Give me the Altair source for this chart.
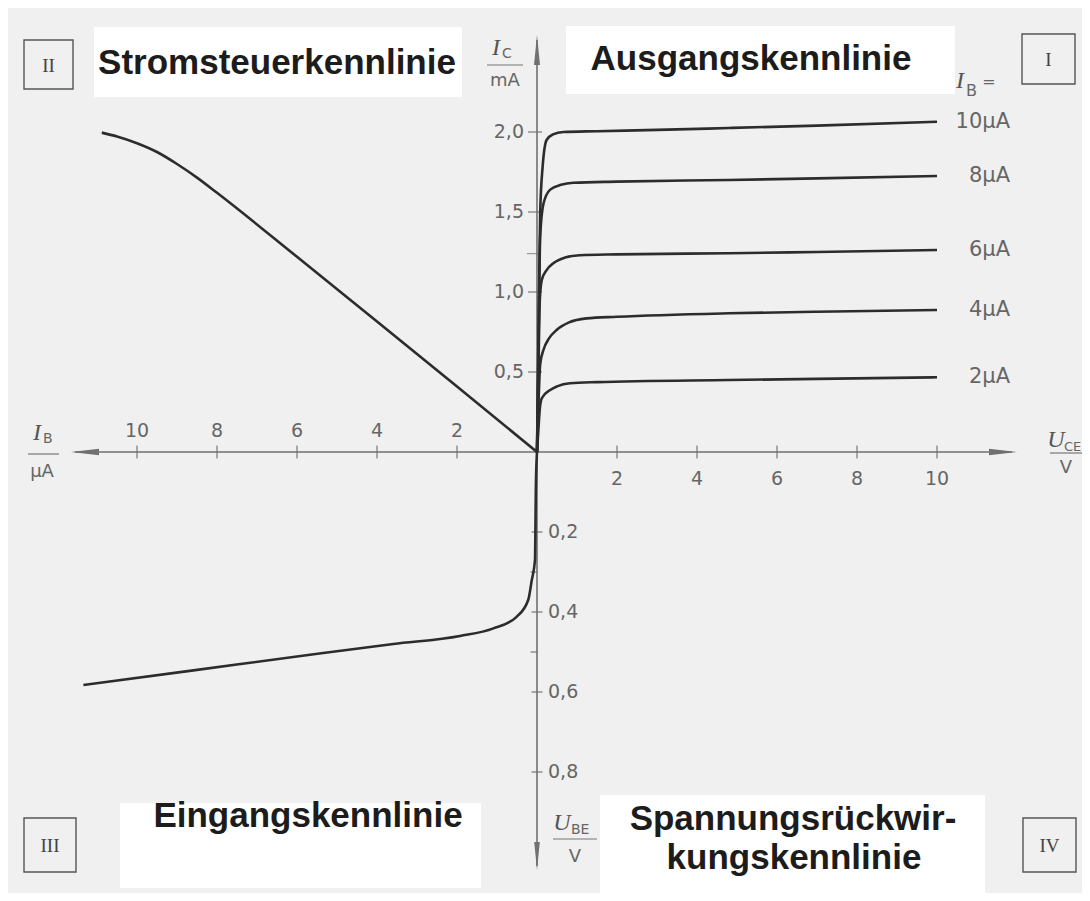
import altair as alt
import pandas as pd

# ---------------- data ----------------
# Quadrant I: Ausgangskennlinie  I_C (mA) over U_CE (V), one curve per I_B
IB_LEVELS = ["2µA", "4µA", "6µA", "8µA", "10µA"]
U_2 = [0, 0.03, 0.07, 0.12, 0.33, 0.5, 0.825, 1.5, 4.8, 7, 10]
I_2 = [0, 0.12, 0.27, 0.336, 0.3875, 0.41, 0.43, 0.437, 0.45, 0.457, 0.467]
U_4 = [0, 0.03, 0.08, 0.16, 0.3, 0.49, 0.8, 1.24, 2, 4.8, 7, 10]
I_4 = [0, 0.25, 0.55, 0.6375, 0.71, 0.7625, 0.81, 0.835, 0.845, 0.867, 0.877, 0.8875]
U_6 = [0, 0.03, 0.07, 0.12, 0.25, 0.41, 0.7, 1.07, 2, 4.8, 7, 10]
I_6 = [0, 0.4, 0.95, 1.075, 1.14, 1.18, 1.215, 1.23, 1.235, 1.242, 1.25, 1.2625]
U_8 = [0, 0.03, 0.08, 0.16, 0.33, 0.6, 0.91, 2, 4.8, 7, 10]
I_8 = [0, 0.5, 1.35, 1.55, 1.64, 1.67, 1.683, 1.69, 1.70, 1.71, 1.725]
U_10 = [0, 0.03, 0.08, 0.14, 0.24, 0.4, 0.66, 1.5, 3, 4.8, 7, 10]
I_10 = [0, 0.6, 1.5, 1.78, 1.95, 1.985, 2.0, 2.005, 2.013, 2.025, 2.04, 2.064]

# Quadrant II: Stromsteuerkennlinie  I_C (mA) over I_B (µA)
II_IB = [0, 2, 4, 6, 8, 8.5, 9, 9.5, 10, 10.5, 10.88]
II_IC = [0, 0.41, 0.815, 1.22, 1.62, 1.715, 1.80, 1.875, 1.93, 1.972, 1.996]

# Quadrant III: Eingangskennlinie  U_BE (V) over I_B (µA)
III_IB = [0, 0.03, 0.04, 0.05, 0.13, 0.22, 0.51, 1.09, 1.925, 3.59, 5.675, 8.59, 11.34]
III_UBE = [0, 0.1, 0.2, 0.27, 0.32, 0.37, 0.412, 0.441, 0.46, 0.480, 0.507, 0.546, 0.5825]

# axis ticks
UCE_TICKS = [2, 4, 6, 8, 10]
IB_TICKS = [2, 4, 6, 8, 10]
IC_TICKS = [0.5, 1.0, 1.5, 2.0]
IC_MARK = [1.24]
UBE_TICKS = [0.2, 0.4, 0.6, 0.8]
UBE_MINOR = [0.3, 0.5]

UBE_FACTOR = 2.5  # 0.2 V on the lower axis spans the same length as 0.5 mA above

# ---------------- frame / scales ----------------
W, H = 1074, 885
OX, OY, PX_X, PX_Y = 537, 452, 40.0, 160.0  # page position of origin, px per unit


def dx(px):
    return (px - OX) / PX_X


def dy(py):
    return (OY - py) / PX_Y


SX = alt.Scale(domain=[dx(8), dx(8 + W)], nice=False, zero=False)
SY = alt.Scale(domain=[dy(8 + H), dy(8)], nice=False, zero=False)


def X(f):
    return alt.X(f, type="quantitative", scale=SX, axis=None)


def Y(f):
    return alt.Y(f, type="quantitative", scale=SY, axis=None)


def XD(v):
    return alt.XDatum(v, type="quantitative", scale=SX, axis=None)


def YD(v):
    return alt.YDatum(v, type="quantitative", scale=SY, axis=None)


ONE = pd.DataFrame({"k": [0]})
INK = "#2c2c2c"
AXC = "#707070"
LBL = "#666666"
SANS = "DejaVu Sans"
BOLD = "Liberation Sans"
SERIF = "Liberation Serif"


def text(s, px, py, size=19, font=SANS, weight="normal", style="normal",
         color=LBL, align="center", baseline="middle"):
    return alt.Chart(ONE).mark_text(
        text=s, fontSize=size, font=font, fontWeight=weight, fontStyle=style,
        color=color, align=align, baseline=baseline
    ).encode(x=XD(dx(px)), y=YD(dy(py)))


def box(x0, y0, x1, y1, fill="#ffffff", stroke=None, sw=0):
    kw = dict(fill=fill)
    if stroke:
        kw.update(stroke=stroke, strokeWidth=sw)
    return alt.Chart(ONE).mark_rect(**kw).encode(
        x=XD(dx(x0)), x2=alt.X2Datum(dx(x1)), y=YD(dy(y0)), y2=alt.Y2Datum(dy(y1)))


def hline(x0, x1, py, color=AXC, sw=1.6):
    return alt.Chart(ONE).mark_rule(color=color, strokeWidth=sw).encode(
        x=XD(dx(x0)), x2=alt.X2Datum(dx(x1)), y=YD(dy(py)))


def vline(px, y0, y1, color=AXC, sw=1.6):
    return alt.Chart(ONE).mark_rule(color=color, strokeWidth=sw).encode(
        x=XD(dx(px)), y=YD(dy(y0)), y2=alt.Y2Datum(dy(y1)))


def arrow(path, px, py, length):
    return alt.Chart(ONE).mark_point(
        shape=path, size=length * length, filled=True, color=AXC, opacity=1, strokeWidth=0
    ).encode(x=XD(dx(px)), y=YD(dy(py)))


# ---------------- data tables ----------------
curves = [(IB_LEVELS[0], U_2, I_2), (IB_LEVELS[1], U_4, I_4), (IB_LEVELS[2], U_6, I_6),
          (IB_LEVELS[3], U_8, I_8), (IB_LEVELS[4], U_10, I_10)]
out_df = pd.DataFrame([{"series": n, "x": u, "y": i}
                       for n, us, is_ in curves for u, i in zip(us, is_)])
lab_df = pd.DataFrame([{"series": n, "y": is_[-1]} for n, us, is_ in curves])
ctl_df = pd.DataFrame({"x": [-v for v in II_IB], "y": II_IC})
inp_df = pd.DataFrame({"x": [-v for v in III_IB], "y": [-UBE_FACTOR * v for v in III_UBE]})

uce_df = pd.DataFrame({"x": UCE_TICKS, "t": [str(v) for v in UCE_TICKS]})
ib_df = pd.DataFrame({"x": [-v for v in IB_TICKS], "t": [str(v) for v in IB_TICKS]})
ic_df = pd.DataFrame({"y": IC_TICKS, "t": [f"{v:.1f}".replace(".", ",") for v in IC_TICKS]})
icm_df = pd.DataFrame({"y": IC_MARK})
ube_df = pd.DataFrame({"y": [-UBE_FACTOR * v for v in UBE_TICKS],
                       "t": [f"{v:.1f}".replace(".", ",") for v in UBE_TICKS]})
ubem_df = pd.DataFrame({"y": [-UBE_FACTOR * v for v in UBE_MINOR]})

layers = []

# white label panels
layers += [box(94, 27, 462, 97), box(566, 26, 955, 94),
           box(120, 803, 481, 888), box(600, 795, 985, 893)]

# quadrant number boxes
for s, (x0, y0, x1, y1) in [("II", (24, 40, 73, 89)), ("I", (1022, 34, 1075, 84)),
                            ("III", (24, 818, 76, 872)), ("IV", (1023, 818, 1076, 872))]:
    layers.append(box(x0, y0, x1, y1, fill="#f0f0f0", stroke="#555555", sw=1.4))
    layers.append(text(s, (x0 + x1) / 2, (y0 + y1) / 2 + 1, size=19, font=SERIF, color="#444444"))

# titles
TS = 35
layers += [
    text("Stromsteuerkennlinie", 277, 63, size=TS, font=BOLD, weight="bold", color="#1c1c1c"),
    text("Ausgangskennlinie", 751, 59, size=TS, font=BOLD, weight="bold", color="#1c1c1c"),
    text("Eingangskennlinie", 308, 816, size=TS, font=BOLD, weight="bold", color="#1c1c1c"),
    text("Spannungsrückwir-", 793, 819, size=TS, font=BOLD, weight="bold", color="#1c1c1c"),
    text("kungskennlinie", 794, 858, size=TS, font=BOLD, weight="bold", color="#1c1c1c"),
]

# axes lines + arrowheads
layers += [hline(75, 1012, OY), vline(OX, 40, 866)]
layers += [
    arrow("M1,0L-1,-0.24L-1,0.24Z", 1017 - 14, OY, 28),
    arrow("M-1,0L1,-0.24L1,0.24Z", 71 + 14, OY, 28),
    arrow("M0,-1L-0.2,1L0.2,1Z", OX, 35 + 15, 30),
    arrow("M0,1L-0.2,-1L0.2,-1Z", OX, 870 - 14, 28),
]

# ticks
tick = dict(color=AXC, thickness=1.6)
layers += [
    alt.Chart(uce_df).mark_tick(orient="vertical", size=13, **tick).encode(x=X("x"), y=YD(0)),
    alt.Chart(ib_df).mark_tick(orient="vertical", size=13, **tick).encode(x=X("x"), y=YD(0)),
    alt.Chart(ic_df).mark_tick(orient="horizontal", size=14, **tick).encode(x=XD(dx(535)), y=Y("y")),
    alt.Chart(icm_df).mark_tick(orient="horizontal", size=12, color=AXC, thickness=1.2).encode(
        x=XD(dx(533)), y=Y("y")),
    alt.Chart(ube_df).mark_tick(orient="horizontal", size=11, **tick).encode(x=XD(dx(537)), y=Y("y")),
    alt.Chart(ubem_df).mark_tick(orient="horizontal", size=7, **tick).encode(x=XD(dx(534)), y=Y("y")),
]

# tick labels
layers += [
    alt.Chart(uce_df).mark_text(font=SANS, fontSize=19, color=LBL).encode(
        x=X("x"), y=YD(dy(479)), text="t:N"),
    alt.Chart(ib_df).mark_text(font=SANS, fontSize=19, color=LBL).encode(
        x=X("x"), y=YD(dy(431)), text="t:N"),
    alt.Chart(ic_df).mark_text(font=SANS, fontSize=19, color=LBL, align="right").encode(
        x=XD(dx(524)), y=Y("y"), text="t:N"),
    alt.Chart(ube_df).mark_text(font=SANS, fontSize=19, color=LBL, align="left").encode(
        x=XD(dx(548)), y=Y("y"), text="t:N"),
]

# axis quantity labels (quantity / unit)
layers += [
    text("I", 496, 48, size=24, font=SERIF, style="italic", color="#555555"),
    text("C", 502, 54, size=14, color=LBL, align="left"),
    hline(487, 523, 65, color="#777777", sw=1.2),
    text("mA", 505, 81, size=18, color=LBL),

    text("U", 1056, 440, size=24, font=SERIF, style="italic", color="#555555"),
    text("CE", 1064, 447, size=13, color=LBL, align="left"),
    hline(1050, 1082, 453, color="#777777", sw=1.2),
    text("V", 1066, 468, size=18, color=LBL),

    text("I", 37, 433, size=24, font=SERIF, style="italic", color="#555555"),
    text("B", 43, 439, size=14, color=LBL, align="left"),
    hline(28, 59, 454, color="#777777", sw=1.2),
    text("µA", 42, 472, size=18, color=LBL),

    text("U", 562, 823, size=24, font=SERIF, style="italic", color="#555555"),
    text("BE", 571, 830, size=14, color=LBL, align="left"),
    hline(553, 597, 839, color="#777777", sw=1.2),
    text("V", 575, 857, size=18, color=LBL),

    text("I", 960, 81, size=24, font=SERIF, style="italic", color="#555555"),
    text("B", 966, 91, size=16, color=LBL, align="left"),
    text("=", 989, 82, size=16, color=LBL),
]

# characteristic curves
line = dict(interpolate="monotone", color=INK, strokeWidth=2.6)
layers += [
    alt.Chart(out_df).mark_line(**line).encode(x=X("x"), y=Y("y"), detail="series:N"),
    alt.Chart(ctl_df).mark_line(**line).encode(x=X("x"), y=Y("y")),
    alt.Chart(inp_df).mark_line(**line).encode(x=X("x"), y=Y("y")),
]

# I_B labels at the curve ends
layers.append(
    alt.Chart(lab_df).mark_text(font=SANS, fontSize=21, color=LBL, align="right").encode(
        x=XD(dx(1010)), y=Y("y"), text="series:N"))

chart = alt.layer(*layers).properties(
    width=W, height=H, padding=0, autosize=alt.AutoSizeParams(type="none"),
    background="#ffffff"
).configure_view(fill="#f0f0f0", stroke=None)

chart.save("out.html", embed_options={"renderer": "svg", "actions": False})
